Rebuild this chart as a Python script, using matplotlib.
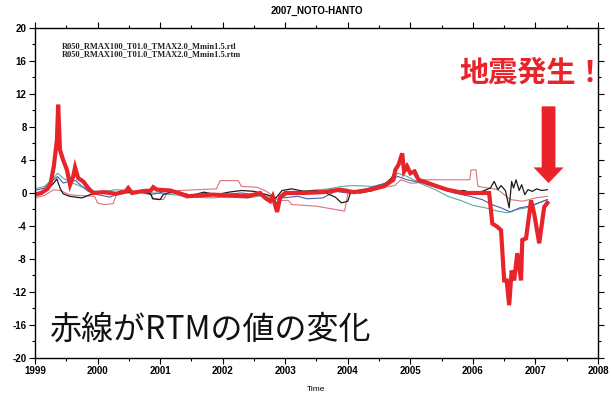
import matplotlib
matplotlib.use("Agg")
import matplotlib.pyplot as plt
from matplotlib.ticker import MultipleLocator

plt.rcParams['axes.unicode_minus'] = False

# RTM (thick red)
rtm_t = [1999.00, 1999.10, 1999.20, 1999.25, 1999.30, 1999.35, 1999.37, 1999.40, 1999.45, 1999.51,
         1999.56, 1999.61, 1999.64, 1999.69, 1999.77, 1999.85, 1999.93, 2000.10, 2000.30, 2000.45,
         2000.49, 2000.55, 2000.70, 2000.85, 2000.89, 2000.95, 2001.16, 2001.30, 2001.43, 2001.60,
         2001.85, 2002.10, 2002.40, 2002.60, 2002.68, 2002.76, 2002.80, 2002.87, 2002.92, 2003.00,
         2003.30, 2003.60, 2003.88, 2004.10, 2004.36, 2004.57, 2004.73, 2004.76, 2004.81, 2004.87,
         2004.90, 2004.95, 2005.00, 2005.06, 2005.13, 2005.21, 2005.43, 2005.59, 2005.85, 2006.23,
         2006.26, 2006.31, 2006.39, 2006.45, 2006.50, 2006.54, 2006.58, 2006.62, 2006.66, 2006.71,
         2006.77, 2006.79, 2006.85, 2006.93, 2006.98, 2007.06, 2007.14, 2007.19]
rtm_v = [-0.2, 0.0, 0.5, 1.2, 3.2, 6.4, 10.7, 5.2, 4.0, 2.8,
         1.0, 2.0, 3.1, 1.8, 1.4, 0.6, 0.0, 0.1, -0.1, 0.2,
         0.6, 0.0, 0.2, 0.3, 0.7, 0.4, 0.3, 0.0, -0.4, -0.3,
         -0.2, -0.3, -0.4, 0.0, -0.6, -1.0, -0.4, -2.3, -0.5, 0.0,
         0.0, 0.1, 0.4, 0.1, 0.4, 0.8, 1.6, 2.8, 3.4, 4.8,
         2.6, 3.2, 2.4, 2.6, 1.6, 1.4, 0.8, 0.4, 0.0, 0.0,
         0.0, -3.7, -4.1, -4.5, -10.6, -10.6, -13.6, -9.4, -10.6, -7.3,
         -10.6, -5.7, -5.5, -0.9, -2.5, -6.1, -1.7, -1.2]

# thin reference curves
blk_t = [1999.00, 1999.10, 1999.20, 1999.30, 1999.35, 1999.40, 1999.45, 1999.55, 1999.65, 1999.75,
         1999.85, 1999.95, 2000.10, 2000.25, 2000.40, 2000.55, 2000.70, 2000.85, 2000.88, 2001.00,
         2001.05, 2001.20, 2001.35, 2001.50, 2001.70, 2001.90, 2002.10, 2002.30, 2002.50, 2002.70,
         2002.85, 2002.95, 2003.10, 2003.30, 2003.50, 2003.65, 2003.80, 2003.90, 2004.00, 2004.05,
         2004.20, 2004.40, 2004.55, 2004.70, 2004.80, 2004.85, 2004.90, 2004.95, 2005.00, 2005.08,
         2005.15, 2005.25, 2005.40, 2005.55, 2005.70, 2005.85, 2006.00, 2006.15, 2006.28, 2006.34,
         2006.40, 2006.45, 2006.52, 2006.58, 2006.62, 2006.65, 2006.69, 2006.74, 2006.78, 2006.83,
         2006.88, 2006.95, 2007.02, 2007.10, 2007.19]
blk_v = [0.0, 0.1, 0.4, 1.2, 1.7, 0.6, -0.1, -0.4, -0.5, -0.6,
         -0.3, 0.0, 0.2, -0.1, 0.3, 0.0, 0.2, -0.1, -0.7, -0.8,
         -0.2, 0.2, 0.0, -0.3, 0.1, -0.2, 0.1, 0.3, 0.2, -0.2,
         -0.6, 0.3, 0.5, 0.2, 0.3, 0.0, -0.5, -1.2, -1.0, 0.2,
         0.0, 0.3, 0.8, 1.8, 3.5, 4.2, 3.0, 3.6, 2.2, 2.8,
         1.6, 1.4, 0.8, 0.5, 0.1, 0.3, 0.0, 0.2, 0.6, 1.4,
         0.4, 0.9, 0.3, -1.8, 1.4, 0.6, 1.6, 0.3, 1.0, -0.2,
         0.4, 0.2, 0.5, 0.3, 0.4]

blu_t = [1999.00, 1999.15, 1999.30, 1999.36, 1999.45, 1999.55, 1999.65, 1999.75, 1999.85, 2000.00,
         2000.20, 2000.35, 2000.60, 2000.85, 2001.10, 2001.40, 2001.70, 2002.00, 2002.30, 2002.60,
         2002.85, 2002.95, 2003.20, 2003.35, 2003.60, 2003.80, 2004.00, 2004.30, 2004.60, 2004.80,
         2004.95, 2005.20, 2005.45, 2005.70, 2005.95, 2006.15, 2006.30, 2006.45, 2006.60, 2006.75,
         2006.90, 2007.05, 2007.19]
blu_v = [0.3, 0.6, 1.6, 2.0, 1.2, 1.4, 1.5, 0.8, 0.2, -0.2,
         -0.5, 0.0, 0.2, -0.2, 0.2, -0.3, -0.4, -0.2, 0.0, -0.3,
         -1.2, -0.6, -0.4, -0.7, -0.6, 0.2, 0.0, 0.5, 1.2, 2.0,
         1.6, 1.2, 0.6, 0.0, -0.4, -0.8, -1.4, -1.8, -2.3, -1.8,
         -1.6, -1.2, -0.8]

grn_t = [1999.00, 1999.15, 1999.30, 1999.36, 1999.45, 1999.60, 1999.80, 2000.00, 2000.30, 2000.60,
         2000.90, 2001.20, 2001.50, 2001.80, 2002.10, 2002.40, 2002.65, 2002.90, 2003.10, 2003.40,
         2003.70, 2003.90, 2004.10, 2004.40, 2004.65, 2004.80, 2004.95, 2005.15, 2005.40, 2005.60,
         2005.80, 2006.00, 2006.20, 2006.40, 2006.55, 2006.70, 2006.85, 2007.00, 2007.19]
grn_v = [0.5, 0.8, 1.8, 2.4, 1.8, 1.2, 0.6, 0.1, 0.4, 0.2,
         0.0, -0.2, -0.5, -0.6, -0.5, -0.6, -0.3, -0.8, 0.1, 0.3,
         0.5, 0.8, 0.9, 0.8, 1.2, 2.4, 2.0, 1.2, 0.4, -0.4,
         -0.9, -1.5, -1.8, -2.2, -2.4, -2.0, -1.8, -1.4, -0.8]

pnk_t = [1999.00, 1999.15, 1999.30, 1999.40, 1999.55, 1999.70, 1999.95, 2000.00, 2000.10, 2000.25,
         2000.30, 2000.50, 2000.80, 2000.90, 2001.05, 2001.10, 2001.30, 2001.60, 2001.90, 2001.96,
         2002.25, 2002.30, 2002.55, 2002.70, 2002.90, 2003.05, 2003.10, 2003.50, 2003.95, 2004.00,
         2004.30, 2004.50, 2004.75, 2004.85, 2005.00, 2005.10, 2005.20, 2005.95, 2005.97, 2006.05,
         2006.08, 2006.25, 2006.40, 2006.60, 2006.80, 2007.00, 2007.19]
pnk_v = [-0.6, -0.3, 0.4, 0.3, -0.2, -0.3, -0.4, -1.2, -1.4, -1.3,
         -0.2, 0.0, 0.2, -0.7, -0.8, -0.2, 0.3, 0.4, 0.5, 1.5,
         1.5, 0.8, 0.7, 0.2, -0.9, -0.9, -1.4, -1.6, -2.2, -0.1,
         0.3, 0.6, 0.9, 1.6, 1.2, 1.2, 1.6, 1.6, 2.8, 2.8,
         0.8, 0.6, 0.4, -0.8, -1.0, -0.6, -0.4]

legend_lines = ['R050_RMAX100_T01.0_TMAX2.0_Mmin1.5.rtl',
                'R050_RMAX100_T01.0_TMAX2.0_Mmin1.5.rtm']

fig = plt.figure(figsize=(6.11, 3.94), dpi=100)
ax = fig.add_axes([0.0573, 0.0914, 0.9214, 0.8376])

ax.plot(pnk_t, pnk_v, color='#d9737a', lw=0.8)
ax.plot(grn_t, grn_v, color='#5aaa9c', lw=0.8)
ax.plot(blu_t, blu_v, color='#4a5cb4', lw=0.8)
ax.plot(blk_t, blk_v, color='#1a1a1a', lw=0.9)
ax.plot(rtm_t, rtm_v, color='#e8232a', lw=3.0, solid_joinstyle='miter')

ax.set_xlim(1999, 2008)
ax.set_ylim(-20, 20)
ax.xaxis.set_major_locator(MultipleLocator(1))
ax.xaxis.set_minor_locator(MultipleLocator(0.5))
ax.yaxis.set_major_locator(MultipleLocator(4))
ax.yaxis.set_minor_locator(MultipleLocator(2))
ax.tick_params(which='both', direction='out', top=True, right=True,
               labelsize=7, width=0.8, pad=2)
ax.tick_params(which='major', length=4)
ax.tick_params(which='minor', length=2)
for lab in ax.get_xticklabels() + ax.get_yticklabels():
    lab.set_family('Liberation Sans')
    lab.set_weight('bold')
for sp in ax.spines.values():
    sp.set_linewidth(1.0)

ax.set_title('2007_NOTO-HANTO', fontsize=7, family='Liberation Sans',
             weight='bold', pad=10)
ax.set_xlabel('Time', fontsize=6, family='Liberation Sans', labelpad=7)

for i, line in enumerate(legend_lines):
    ax.text(0.047, 0.944 - i * 0.022, line, transform=ax.transAxes,
            fontsize=6.0, family='Liberation Serif', weight='bold',
            ha='left', va='center', color='#222222')

ax.text(2005.78, 14.6, '地震発生！', fontsize=21, family='Noto Sans CJK JP',
        weight='bold', color='#e8232a', ha='left', va='center')
ax.arrow(2007.21, 10.5, 0, -9.3, width=0.22, head_width=0.48, head_length=1.9,
         length_includes_head=True, color='#e8232a', lw=0)

ax.text(1999.24, -16.6, '赤線がRTMの値の変化', fontsize=23,
        family='Noto Sans CJK JP', color='#111111', ha='left', va='center')

fig.savefig('out.png', dpi=100)
